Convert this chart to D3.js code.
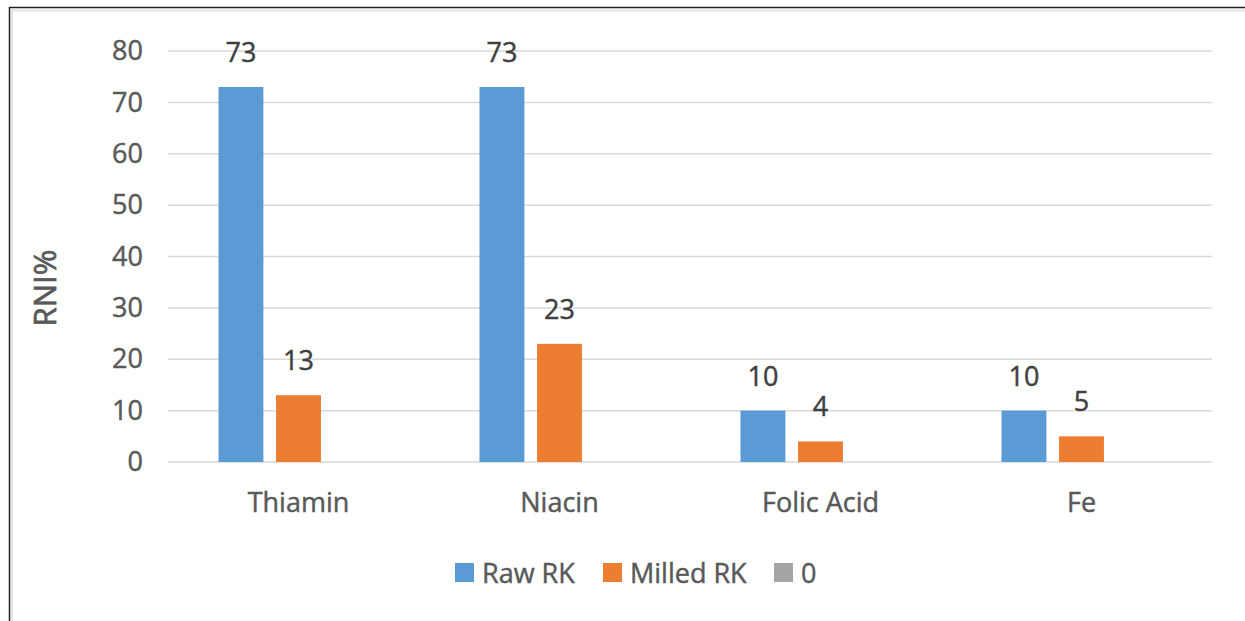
<!DOCTYPE html>
<html>
<head>
<meta charset="utf-8">
<script src="https://cdn.jsdelivr.net/npm/d3@7"></script>
<style>
  html, body { margin: 0; padding: 0; background: #fff; }
  svg text { font-family: 'Open Sans', sans-serif; }
</style>
</head>
<body>
<div id="chart"></div>
<script>
// chart data
const categories = ['Thiamin', 'Niacin', 'Folic Acid', 'Fe'];
const seriesNames = ['Raw RK', 'Milled RK', '0'];
const rawRK = [73, 73, 10, 10];
const milledRK = [13, 23, 4, 5];
const zeroSeries = [0, 0, 0, 0];
const yTicks = [0, 10, 20, 30, 40, 50, 60, 70, 80];
const colors = ['#5B9BD5', '#ED7D31', '#A5A5A5'];

const seriesValues = [rawRK, milledRK, zeroSeries];

const W = 1245, H = 621;
const margin = {top: 51, right: 33, bottom: 159, left: 168};
const width = W - margin.left - margin.right;
const height = H - margin.top - margin.bottom;
const fs = 27;

const svg = d3.select('#chart')
  .append('svg')
  .attr('width', W)
  .attr('height', H);

// outer frame (only top/left visible in the crop)
svg.append('rect')
  .attr('x', 9.5).attr('y', 7.5)
  .attr('width', W + 20).attr('height', H + 20)
  .attr('fill', 'none')
  .attr('stroke', '#222')
  .attr('stroke-width', 1.5);
svg.append('rect')
  .attr('x', 12).attr('y', 10.5)
  .attr('width', W + 20).attr('height', H + 20)
  .attr('fill', 'none')
  .attr('stroke', '#e4e4e4')
  .attr('stroke-width', 2);

const g = svg.append('g')
  .attr('transform', `translate(${margin.left},${margin.top})`);

const x0 = d3.scaleBand()
  .domain(categories)
  .range([0, width])
  .paddingInner(0.387)
  .paddingOuter(0.1935);

const x1 = d3.scaleBand()
  .domain(d3.range(seriesNames.length))
  .range([0, x0.bandwidth()])
  .paddingInner(0.22)
  .paddingOuter(0);

const y = d3.scaleLinear()
  .domain([0, 80])
  .range([height, 0]);

// gridlines
g.append('g')
  .selectAll('line')
  .data(yTicks)
  .join('line')
  .attr('x1', 0)
  .attr('x2', width)
  .attr('y1', d => y(d))
  .attr('y2', d => y(d))
  .attr('stroke', '#d9d9d9')
  .attr('stroke-width', 1.5);

// text look: a touch heavier, like the ClearType original
const styleText = sel => sel
  .attr('font-size', fs)
  .attr('font-family', "'Open Sans', sans-serif")
  .attr('stroke-width', 0.45)
  .attr('paint-order', 'stroke');

// y axis labels
const yAxis = g.append('g')
  .attr('transform', 'translate(-25,0)')
  .call(d3.axisLeft(y).tickValues(yTicks).tickSize(0).tickPadding(0));
yAxis.select('.domain').remove();
yAxis.selectAll('text')
  .call(styleText)
  .attr('fill', '#595959')
  .attr('stroke', '#595959');

// x axis labels
const xAxis = g.append('g')
  .attr('transform', `translate(0,${height})`)
  .call(d3.axisBottom(x0).tickSize(0).tickPadding(31));
xAxis.select('.domain').remove();
xAxis.selectAll('text')
  .call(styleText)
  .attr('fill', '#595959')
  .attr('stroke', '#595959');

// bars
const groups = g.append('g')
  .selectAll('g')
  .data(categories)
  .join('g')
  .attr('transform', d => `translate(${x0(d)},0)`);

groups.selectAll('rect')
  .data((d, i) => seriesValues.map((vals, s) => ({s, v: vals[i]})))
  .join('rect')
  .attr('x', d => x1(d.s))
  .attr('width', x1.bandwidth())
  .attr('y', d => y(d.v))
  .attr('height', d => height - y(d.v))
  .attr('fill', d => colors[d.s]);

// data labels (not for the empty "0" series)
groups.selectAll('text.lbl')
  .data((d, i) => seriesValues.slice(0, 2).map((vals, s) => ({s, v: vals[i]})))
  .join('text')
  .attr('class', 'lbl')
  .attr('x', d => x1(d.s) + x1.bandwidth() / 2)
  .attr('y', d => y(d.v) - 25)
  .attr('text-anchor', 'middle')
  .call(styleText)
  .attr('fill', '#404040')
  .attr('stroke', '#404040')
  .text(d => d.v);

// axis title
svg.append('text')
  .attr('transform', 'translate(44,288) rotate(-90)')
  .attr('text-anchor', 'middle')
  .attr('dominant-baseline', 'central')
  .call(styleText)
  .attr('font-size', 31)
  .attr('stroke-width', 0.7)
  .attr('fill', '#595959')
  .attr('stroke', '#595959')
  .text('RNI%');

// legend
const legendX = [455, 603, 774];
const legend = svg.append('g')
  .selectAll('g')
  .data(seriesNames)
  .join('g')
  .attr('transform', (d, i) => `translate(${legendX[i]},563)`);
legend.append('rect')
  .attr('width', 19)
  .attr('height', 19)
  .attr('fill', (d, i) => colors[i]);
legend.append('text')
  .attr('x', 27)
  .attr('y', 19.5)
  .call(styleText)
  .attr('fill', '#595959')
  .attr('stroke', '#595959')
  .text(d => d);
</script>
</body>
</html>
